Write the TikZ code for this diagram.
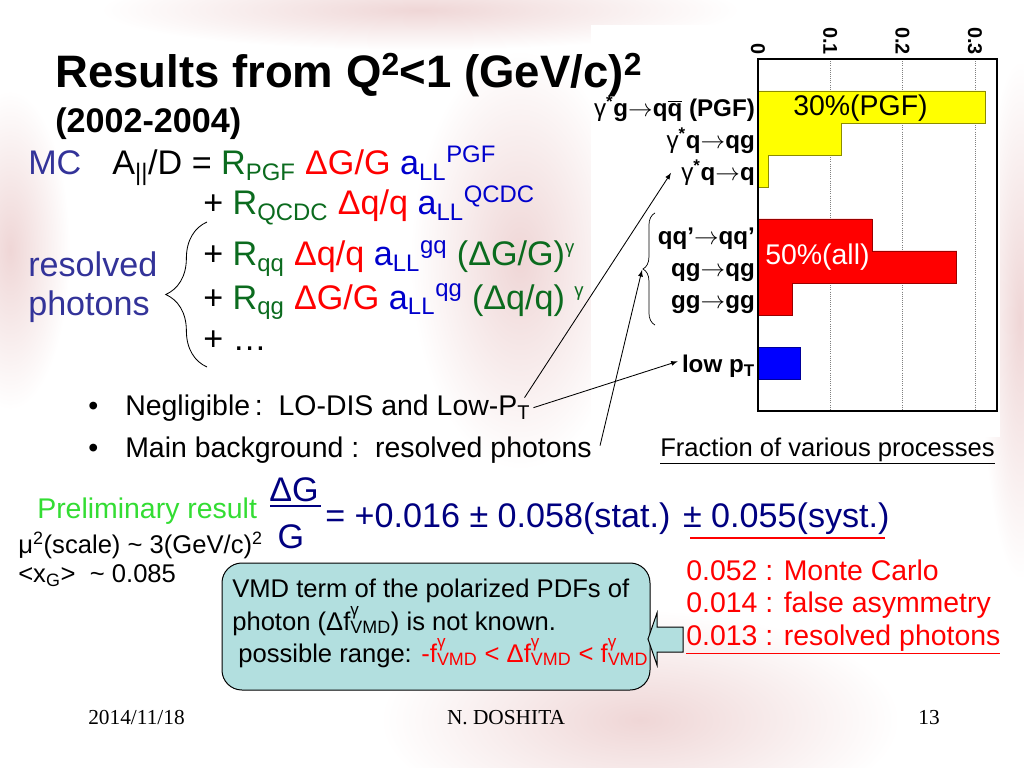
\documentclass[tikz,border=0pt]{standalone}
\usepackage{fontspec}
\setmainfont{Liberation Sans}
\newfontfamily\serifft{Liberation Serif}
\usetikzlibrary{arrows,decorations.pathreplacing}

\definecolor{mcblue}{HTML}{333399}
\definecolor{rgreen}{HTML}{0B6B1E}
\definecolor{dred}{HTML}{FF0000}
\definecolor{ablue}{HTML}{0000CC}
\definecolor{resnavy}{HTML}{000080}
\definecolor{pgreen}{HTML}{33DD33}
\definecolor{boxcyan}{HTML}{B2DFDF}
\definecolor{pinkbg}{HTML}{EFD6D6}
\definecolor{ybar}{HTML}{FFFF00}
\definecolor{ybard}{HTML}{8C8C00}
\definecolor{rbar}{HTML}{FF0000}
\definecolor{rbard}{HTML}{990000}
\definecolor{bbar}{HTML}{0000FF}

\newcommand\fsz[1]{\fontsize{#1}{#1}\selectfont}
\newcommand\Rg[1]{{\color{rgreen}R\textsubscript{#1}}}
\newcommand\aLL[1]{{\color{ablue}a\textsubscript{LL}\textsuperscript{#1}}}
\newcommand\dGG{{\color{dred}ΔG/G}}
\newcommand\dqq{{\color{dred}Δq/q}}
\newcommand\gsup{\textsuperscript{\fsz{13}γ}}
\newcommand\fvmd{f\rlap{\raisebox{0.58em}{\fsz{12}γ}}\textsubscript{VMD}}
\newcommand\pto{$\rightarrow$}

\begin{document}
\begin{tikzpicture}[
			x = 0.703125pt, y = -0.703125pt,
			every node/.style = {inner sep=0pt},
			txt/.style = {anchor=base west},
			lab/.style = {anchor=base east, font=\bfseries\fsz{17}},
			conn/.style = {-latex, line width=0.6pt},
			big/.style = {font=\fsz{24}},
			mid/.style = {font=\fsz{20}},
			small/.style = {font=\fsz{18}}
			]

			\useasboundingbox (0,0) rectangle (1024,768);
			\clip (0,0) rectangle (1024,768);
			\fill[white] (0,0) rectangle (1024,768);
			\shade[inner color=pinkbg, outer color=white] (520,260) ellipse [x radius=110, y radius=210];
			\shade[inner color=pinkbg, outer color=white] (10,250) ellipse [x radius=60, y radius=160];
			\shade[inner color=pinkbg, outer color=white] (640,720) ellipse [x radius=260, y radius=110];
			\shade[inner color=pinkbg, outer color=white] (420,10) ellipse [x radius=320, y radius=40];
			\shade[inner color=pinkbg, outer color=white] (1020,320) ellipse [x radius=40, y radius=260];
			\fill[white] (591,25) rectangle (1000,437);

			\node[txt, font=\bfseries\fsz{32}] (title) at (55,88) {Results from Q\textsuperscript{2}<1 (GeV/c)\textsuperscript{2}};
			\node[txt, font=\bfseries\fsz{24}] (years) at (55,133) {(2002-2004)};

			\node[txt, big, mcblue] (mc) at (28,175) {MC};
			\node[txt, big] (eqa) at (112,175) {A\textsubscript{||}/D = \Rg{PGF} \dGG{} \aLL{PGF}};
			\node[txt, big] (eqb) at (203,215) {+ \Rg{QCDC} \dqq{} \aLL{QCDC}};
			\node[txt, big] (eqc) at (203,266) {+ \Rg{qq} \dqq{} \aLL{gq} {\color{rgreen}(ΔG/G)\gsup}};
			\node[txt, big] (eqd) at (203,309) {+ \Rg{qg} \dGG{} \aLL{qg} {\color{rgreen}(Δq/q) \gsup}};
			\node[txt, big] (eqe) at (203,350) {+ …};
			\node[txt, big, mcblue] (resolved) at (28,277) {resolved};
			\node[txt, big, mcblue] (photons) at (28,316) {photons};
			\draw[decorate, decoration={brace, amplitude=29pt}, line width=0.6pt] (207,367) -- (207,222);

			\begin{scope}[shift={(758,59)}, xscale=723, yscale=32]
				\foreach \v in {0.1,0.2,0.3}
					\draw[densely dotted, gray, line width=0.5pt] (\v,0) -- (\v,11);
				\draw[fill=ybar, draw=ybard, line width=0.5pt] (0,1) -| (0.314,2) -| (0.115,3) -| (0.014,4) -- (0,4) -- cycle;
				\draw[fill=rbar, draw=rbard, line width=0.5pt] (0,5) -| (0.158,6) -| (0.275,7) -| (0.047,8) -- (0,8) -- cycle;
				\draw[fill=bbar, draw=bbar!60!black, line width=0.5pt] (0,9) rectangle (0.058,10);
				\draw[line width=0.8pt] (0,0) rectangle (0.3306,11);
				\foreach \v [count=\i] in {0,0.1,0.2,0.3}
					\node[rotate=-90, anchor=east, font=\bfseries\fsz{14}] (tick\i) at (\v,-0.12) {\v};

				\node[lab] (pgf) at (-0.004,1.8) {{\mdseries γ}\textsuperscript{*}g\pto q$\overline{\mbox{q}}$ (PGF)};
				\node[lab] (qcdc) at (-0.004,2.8) {{\mdseries γ}\textsuperscript{*}q\pto qg};
				\node[lab] (lodis) at (-0.004,3.8) {{\mdseries γ}\textsuperscript{*}q\pto q};
				\node[lab] (qqp) at (-0.004,5.8) {qq’\pto qq’};
				\node[lab] (qgqg) at (-0.004,6.8) {qg\pto qg};
				\node[lab] (gggg) at (-0.004,7.8) {gg\pto gg};
				\node[lab] (lowpt) at (-0.004,9.8) {low p\textsubscript{T}};
			\end{scope}

			\node[txt, mid] (pgfpct) at (793,116) {30\%(PGF)};
			\node[txt, mid, white] (allpct) at (765,265) {50\%(all)};
			\node[txt, small] (fraction) at (660,456) {\underline{Fraction of various processes}};
			\draw[decorate, decoration={brace, amplitude=8.5pt}, line width=0.5pt] (655,325) -- (655,213);
			\coordinate (ctip) at (642,270);

			\node[txt, mid] (dot1) at (88,415) {•};
			\node[txt, mid] (neg) at (125,415) {Negligible\,:\ \ LO-DIS and Low-P\textsubscript{T}};
			\node[txt, mid] (dot2) at (88,457) {•};
			\node[txt, mid] (main) at (125,457) {Main background :\ \ resolved photons};

			\draw[conn] ([shift={(-6,-10)}]neg.east) -- ([shift={(-10,0)}]lodis.west);
			\draw[conn] ([shift={(3,0)}]neg.east) -- ([shift={(-4,-5)}]lowpt.west);
			\draw[conn] ([shift={(8,-4)}]main.east) -- (ctip);

			\node[txt, mid, pgreen] (prelim) at (37,518) {Preliminary result};
			\node[anchor=base, big, resnavy] (dgnum) at (294,501) {ΔG};
			\node[anchor=base, big, resnavy] (gden) at (291,548) {G};
			\draw[resnavy, line width=1.3pt] (270,506) -- (321,506);
			\node[txt, big, resnavy] (result) at (325,527) {= +0.016 ± 0.058(stat.) ± 0.055(syst.)};
			\draw[dred, line width=2pt] (690,538) -- (885,538);

			\node[txt, small] (scale) at (18,553) {μ\textsuperscript{2}(scale) \textasciitilde{} 3(GeV/c)\textsuperscript{2}};
			\node[txt, small] (xg) at (18,582) {<x\textsubscript{G}>\ \ \textasciitilde{} 0.085};

			\node[txt, mid, dred] (mcarlo) at (686,580) {0.052 : Monte Carlo};
			\node[txt, mid, dred] (falseasym) at (686,612) {0.014 : false asymmetry};
			\node[txt, mid, dred] (resphot) at (686,645) {\underline{0.013 : resolved photons}};

			\draw[fill=boxcyan, line width=0.7pt, rounded corners=14pt] (222,563) rectangle (650,690);
			\draw[fill=boxcyan, line width=0.7pt] (683,627) -- (657,627) -- (657,613) -- (648,639) -- (657,665) -- (657,652) -- (683,652) -- cycle;
			\node[txt, small] (vmda) at (232,597) {VMD term of the polarized PDFs of};
			\node[txt, small] (vmdb) at (232,630) {photon (Δ\fvmd) is not known.};
			\node[txt, small] (vmdc) at (238,662) {possible range: {\color{dred}-\fvmd{} < Δ\fvmd{} < \fvmd}};

			\node[txt, font=\serifft\fsz{15}] (date) at (88,724) {2014/11/18};
			\node[anchor=base, font=\serifft\fsz{15}] (author) at (506,724) {N. DOSHITA};
			\node[anchor=base, font=\serifft\fsz{15}] (page) at (929,724) {13};

		\end{tikzpicture}
\end{document}
